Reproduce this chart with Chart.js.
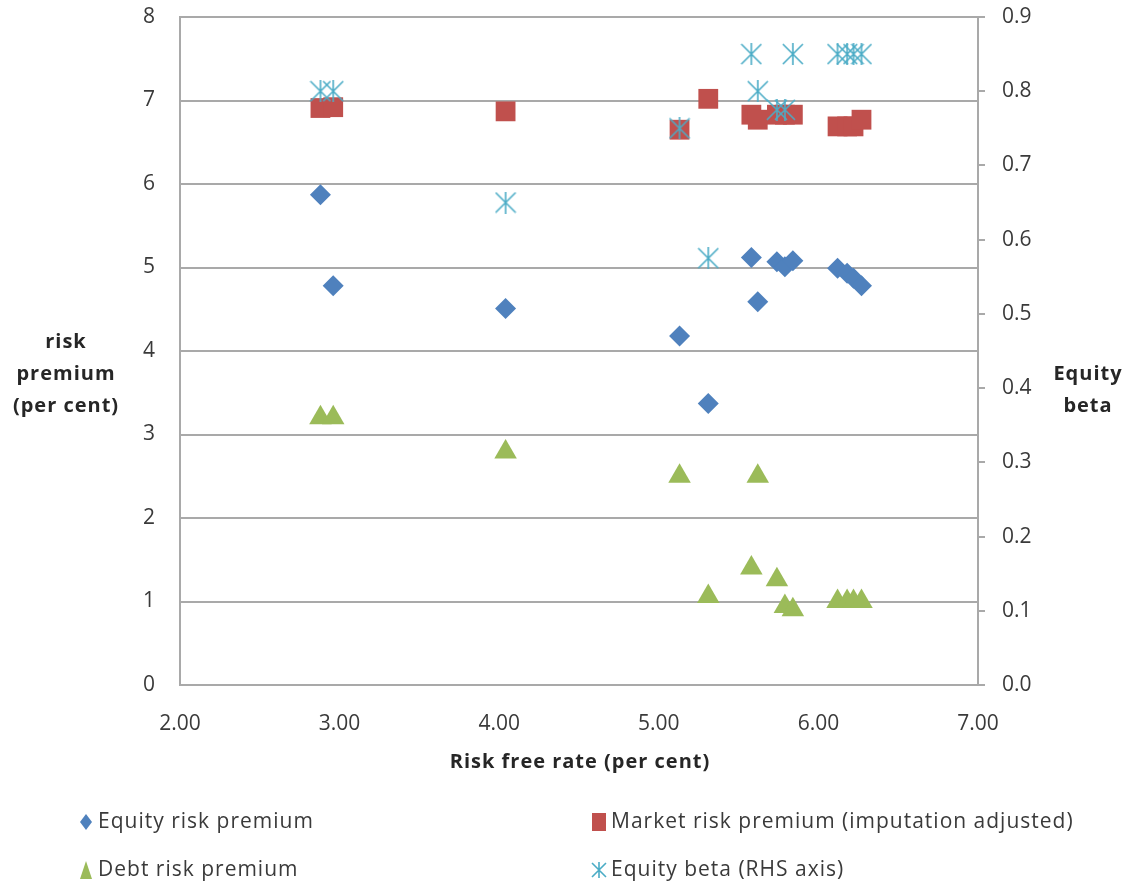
<!DOCTYPE html>
<html>
<head>
<meta charset="utf-8">
<script src="https://cdn.jsdelivr.net/npm/chart.js@4"></script>
<style>
  body { margin: 0; background: #fff; }
</style>
</head>
<body>
<canvas id="grafico" width="1128" height="885"></canvas>
<script>
// Datos
const riskFreeRate = [2.88, 2.96, 4.04, 5.13, 5.31, 5.58, 5.62, 5.74, 5.79, 5.84, 6.12, 6.18, 6.22, 6.27];
const equityRiskPremium = [5.87, 4.78, 4.51, 4.18, 3.37, 5.12, 4.59, 5.07, 5.01, 5.08, 4.99, 4.93, 4.87, 4.78];
const marketRiskPremium = [6.91, 6.92, 6.87, 6.65, 7.02, 6.83, 6.77, 6.83, 6.83, 6.83, 6.69, 6.69, 6.69, 6.77];
const debtRiskPremium = [3.20, 3.20, 2.79, 2.50, 1.06, 1.40, 2.50, 1.26, 0.94, 0.90, 1.00, 1.00, 1.00, 1.00];
const equityBeta = [0.80, 0.80, 0.65, 0.75, 0.575, 0.85, 0.80, 0.775, 0.775, 0.85, 0.85, 0.85, 0.85, 0.85];

const seriesNames = [
    "Equity risk premium",
    "Market risk premium (imputation adjusted)",
    "Debt risk premium",
    "Equity beta (RHS axis)"
];
const leftTitle = ["risk", "premium", "(per cent)"];
const rightTitle = ["Equity", "beta"];
const xTitle = "Risk free rate (per cent)";

const colores = ["#4f81bd", "#c0504d", "#9bbb59", "#4bacc6"];
const FONT = "'Open Sans', 'Liberation Sans', sans-serif";
const textoGris = "#3a3a3a";

function puntos(ys) {
    return riskFreeRate.map((x, i) => ({ x: x, y: ys[i] }));
}

// Marcador asterisco estilo Excel
function asterisco(size, color) {
    const c = document.createElement("canvas");
    c.width = size;
    c.height = size;
    const g = c.getContext("2d");
    g.strokeStyle = color;
    g.lineWidth = 1.6;
    g.beginPath();
    g.moveTo(size / 2, 0); g.lineTo(size / 2, size);
    g.moveTo(1, 1); g.lineTo(size - 1, size - 1);
    g.moveTo(size - 1, 1); g.lineTo(1, size - 1);
    g.stroke();
    return c;
}
const starGrande = asterisco(22, colores[3]);
const starChico = asterisco(16, colores[3]);

// Titulos y leyenda dibujados a mano
const extras = {
    id: "extras",
    afterDraw(chart) {
        const ctx = chart.ctx;
        ctx.save();
        ctx.letterSpacing = "1px";
        ctx.fillStyle = "#262626";
        ctx.font = "bold 20px " + FONT;
        ctx.textAlign = "center";
        ctx.textBaseline = "middle";
        leftTitle.forEach((t, i) => ctx.fillText(t, 66, 342 + i * 32));
        rightTitle.forEach((t, i) => ctx.fillText(t, 1088, 374 + i * 32));
        ctx.fillText(xTitle, 580, 762);

        const pos = [[86, 822], [599, 822], [86, 870], [599, 870]];
        ctx.font = "21px " + FONT;
        ctx.textAlign = "left";
        pos.forEach((p, i) => {
            const x = p[0], y = p[1];
            ctx.fillStyle = colores[i];
            ctx.beginPath();
            if (i === 0) {
                ctx.moveTo(x, y - 8); ctx.lineTo(x + 6, y); ctx.lineTo(x, y + 8); ctx.lineTo(x - 6, y);
                ctx.closePath(); ctx.fill();
            } else if (i === 1) {
                ctx.fillRect(x - 7, y - 9, 14, 18);
            } else if (i === 2) {
                ctx.moveTo(x, y - 9); ctx.lineTo(x + 6, y + 9); ctx.lineTo(x - 6, y + 9);
                ctx.closePath(); ctx.fill();
            } else {
                ctx.drawImage(starChico, x - 8, y - 8);
            }
            ctx.fillStyle = textoGris;
            ctx.fillText(seriesNames[i], x + 12, y);
        });
        ctx.restore();
    }
};

const grisGrid = "#a9a9a9";
const tickFont = { size: 21, family: FONT };

// anchos fijos y sin relleno extra arriba
function fijarAncho(w) {
    return (s) => { s.width = w; s.paddingTop = 0; s.paddingBottom = 0; };
}

new Chart(document.getElementById("grafico"), {
    type: "scatter",
    data: {
        datasets: [
            {
                label: seriesNames[0],
                data: puntos(equityRiskPremium),
                pointStyle: "rectRot",
                pointRadius: 10.5,
                pointHoverRadius: 10.5,
                backgroundColor: colores[0],
                borderColor: colores[0],
                borderWidth: 0,
                yAxisID: "y",
                order: 3,
            },
            {
                label: seriesNames[1],
                data: puntos(marketRiskPremium),
                pointStyle: "rect",
                pointRadius: 14,
                pointHoverRadius: 14,
                backgroundColor: colores[1],
                borderColor: colores[1],
                borderWidth: 0,
                yAxisID: "y",
                order: 2,
            },
            {
                label: seriesNames[2],
                data: puntos(debtRiskPremium),
                pointStyle: "triangle",
                pointRadius: 13,
                pointHoverRadius: 13,
                backgroundColor: colores[2],
                borderColor: colores[2],
                borderWidth: 0,
                yAxisID: "y",
                order: 1,
            },
            {
                label: seriesNames[3],
                data: puntos(equityBeta),
                pointStyle: starGrande,
                pointRadius: 11,
                backgroundColor: colores[3],
                borderColor: colores[3],
                yAxisID: "y1",
                order: 0,
            },
        ],
    },
    options: {
        responsive: false,
        animation: false,
        events: [],
        layout: { padding: { top: 17, left: 0, right: 0, bottom: 0 } },
        plugins: {
            legend: { display: false },
            tooltip: { enabled: false },
        },
        scales: {
            x: {
                type: "linear",
                min: 2,
                max: 7,
                ticks: {
                    stepSize: 1,
                    padding: 26,
                    color: textoGris,
                    font: tickFont,
                    callback: (v) => v.toFixed(2),
                },
                grid: { display: false, drawTicks: false },
                border: { display: true, color: grisGrid, width: 2 },
                afterFit: (s) => { s.height = 200; },
            },
            y: {
                position: "left",
                min: 0,
                max: 8,
                ticks: {
                    stepSize: 1,
                    padding: 25,
                    color: textoGris,
                    font: tickFont,
                },
                grid: { color: grisGrid, lineWidth: 2, drawTicks: false },
                border: { display: true, color: grisGrid, width: 2 },
                afterFit: fijarAncho(180),
            },
            y1: {
                position: "right",
                min: 0,
                max: 0.9,
                ticks: {
                    stepSize: 0.1,
                    padding: 17,
                    color: textoGris,
                    font: tickFont,
                    callback: (v) => v.toFixed(1),
                },
                grid: { drawOnChartArea: false, drawTicks: true, tickLength: 7, color: grisGrid, lineWidth: 2 },
                border: { display: true, color: grisGrid, width: 2 },
                afterFit: fijarAncho(150),
            },
        },
    },
    plugins: [extras],
});
</script>
</body>
</html>
